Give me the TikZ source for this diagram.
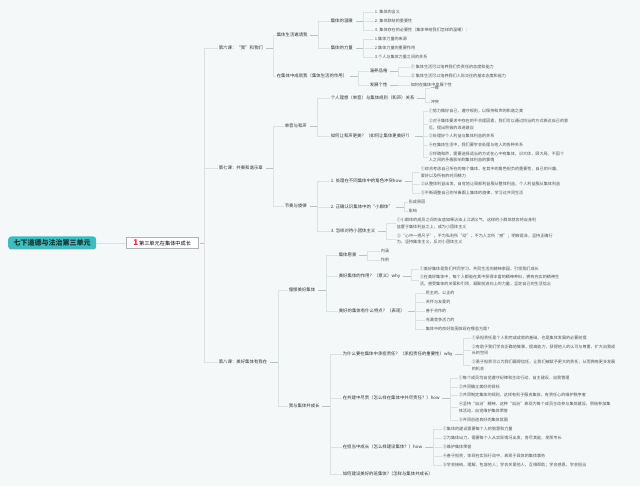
\documentclass[tikz,border=0pt]{standalone}
\usepackage{fontspec}
\setmainfont{Noto Sans CJK SC}
\definecolor{bgc}{HTML}{F5F8F9}
\definecolor{rootfill}{HTML}{3FBDBE}
\definecolor{roottext}{HTML}{123333}
\definecolor{topictxt}{HTML}{333333}
\definecolor{leaftxt}{HTML}{505050}
\definecolor{stubc}{HTML}{B9C2C5}
\definecolor{brkc}{HTML}{DCE2E4}
\definecolor{unitred}{HTML}{E3262E}
\begin{document}
\begin{tikzpicture}[x=1pt, y=-1pt,
        root/.style={rectangle, fill=rootfill, text=roottext, rounded corners=3pt, minimum width=88pt, minimum height=13pt, anchor=west, inner sep=1pt, font=\bfseries\fontsize{7}{8}\selectfont},
        unit/.style={rectangle, draw=gray!60, fill=white, minimum width=72pt, minimum height=11pt, anchor=west, inner sep=1pt, font=\fontsize{5.2}{6}\selectfont},
        topic/.style={anchor=west, inner sep=0.6pt, text=topictxt, font=\fontsize{4.4}{6}\selectfont},
        leaf/.style={anchor=west, inner sep=0.6pt, text=leaftxt, align=left, font=\fontsize{4.1}{6.6}\selectfont},
        stub/.style={draw=stubc, line width=0.5pt},
        link/.style={draw=brkc, line width=0.4pt}
    ]
        \useasboundingbox[fill=bgc] (0,0) rectangle (640,486);

        % Root
        \node[root] (root) at (8,243) {七下道德与法治第三单元};
        \node[unit] (unit) at (126,243) {{\color{unitred}\bfseries\fontsize{8}{8}\selectfont 1}\,第三单元在集体中成长};
        \draw[link] (root) -- (unit);

        % Chapters
        \node[topic] (c6) at (218,48) {第六课：“我”和我们};
        \node[topic] (c7) at (218,168) {第七课：共奏和谐乐章};
        \node[topic] (c8) at (218,362) {第八课：美好集体有我在};
        \draw[stub] ([xshift=2pt]unit.east) -- ++(4pt,0) coordinate (unitj);
        \foreach \c in {c6,c7,c8} \draw[link] (unitj) |- (\c.west);

        % Lesson 6
        \node[topic] (c6a) at (276,35) {集体生活邀请我};
        \node[topic] (c6b) at (276,76) {在集体中成就我（集体生活的作用）};
        \node[topic] (c6a1) at (330,21) {集体的温暖};
        \node[topic] (c6a2) at (330,48) {集体的力量};
        \node[leaf] (c6a1-1) at (374,12) {1. 集体的含义};
        \node[leaf] (c6a1-2) at (374,21) {2. 集体联结的重要性};
        \node[leaf] (c6a1-3) at (374,30) {3. 集体存在的必要性（集体带给我们怎样的温暖）：};
        \node[leaf] (c6a2-1) at (374,39) {1.集体力量的来源};
        \node[leaf] (c6a2-2) at (374,48) {2.集体力量的重要作用};
        \node[leaf] (c6a2-3) at (374,57) {3.个人与集体力量之间的关系};
        \node[topic] (c6b1) at (369,71) {涵养品格};
        \node[topic] (c6b2) at (369,85) {发展个性};
        \node[leaf] (c6b1-1) at (410,67) {① 集体生活可以培养我们负责任的态度和能力};
        \node[leaf] (c6b1-2) at (410,76) {② 集体生活可以培养我们人际交往的基本态度和能力};
        \node[leaf] (c6b2-1) at (410,85) {如何在集体中发展个性};

        \draw[stub] ([xshift=2pt]c6.east) -- ++(8pt,0) coordinate (c6j);
        \foreach \c in {c6a,c6b} \draw[link] (c6j) |- (\c.west);
        \draw[stub] ([xshift=2pt]c6a.east) -- ++(8pt,0) coordinate (c6aj);
        \foreach \c in {c6a1,c6a2} \draw[link] (c6aj) |- (\c.west);
        \draw[stub] ([xshift=2pt]c6b.east) -- ++(8pt,0) coordinate (c6bj);
        \foreach \c in {c6b1,c6b2} \draw[link] (c6bj) |- (\c.west);
        \draw[stub] ([xshift=2pt]c6a1.east) -- ++(8pt,0) coordinate (c6a1j);
        \foreach \c in {c6a1-1,c6a1-2,c6a1-3} \draw[link] (c6a1j) |- (\c.west);
        \draw[stub] ([xshift=2pt]c6a2.east) -- ++(8pt,0) coordinate (c6a2j);
        \foreach \c in {c6a2-1,c6a2-2,c6a2-3} \draw[link] (c6a2j) |- (\c.west);
        \draw[stub] ([xshift=2pt]c6b1.east) -- ++(8pt,0) coordinate (c6b1j);
        \foreach \c in {c6b1-1,c6b1-2} \draw[link] (c6b1j) |- (\c.west);
        \draw[stub] ([xshift=2pt]c6b2.east) -- ++(8pt,0) coordinate (c6b2j);
        \draw[link] (c6b2j) |- (c6b2-1.west);

        % Lesson 7
        \node[topic] (c7a) at (284,126) {单音与和声};
        \node[topic] (c7b) at (284,206) {节奏与旋律};
        \node[topic] (c7a1) at (330,98) {个人理想（单音）与集体规则（和声）关系};
        \node[topic] (c7a2) at (330,136) {如何让和声更美？（如何让集体更美好?）};
        \node[leaf] (c7a1-1) at (430,88) {一致};
        \node[leaf] (c7a1-2) at (430,102) {冲突};
        \node[leaf] (c7a2-1) at (428,111) {①努力做好自己，遵守规则，以保持和声的和谐之美};
        \node[leaf] (c7a2-2) at (428,124.5) {②对于集体要求中存在的不合理因素，我们可以通过恰当的方式表达自己的意\\见，提出积极的改进建议};
        \node[leaf] (c7a2-3) at (428,136) {③处理好个人利益与集体利益的关系};
        \node[leaf] (c7a2-4) at (428,145) {④在集体生活中，我们要学会处理与他人的各种关系};
        \node[leaf] (c7a2-5) at (428,157) {⑤伴随和声，需要选择适当的方式在心中有集体，识大体，顾大局，不因个\\人之间的矛盾影响到集体利益的事情};
        \node[topic] (c7b1) at (330,181) {1. 处理在不同集体中的角色冲突how};
        \node[topic] (c7b2) at (330,207) {2. 正确认识集体中的“小群体”};
        \node[topic] (c7b3) at (330,231) {3. 怎样对待小团体主义};
        \node[leaf] (c7b1-1) at (420,172.5) {①综合考虑自己所在的每个集体，在其中的角色担负的重要性、自己的兴趣、\\爱好以及所有的时间精力};
        \node[leaf] (c7b1-2) at (420,184) {②从整体利益出发，自觉地让局部利益服从整体利益，个人利益服从集体利益};
        \node[leaf] (c7b1-3) at (420,193) {③不断调整自己的节奏跟上集体的旋律，学习过共同生活};
        \node[leaf] (c7b2-1) at (408,202) {形成原因};
        \node[leaf] (c7b2-2) at (408,211) {影响};
        \node[leaf] (c7b3-1) at (396,223.5) {①小群体的成员之间的友谊如果沾染上江湖义气，这样的小群体就会将自身利\\益置于集体利益之上，成为小团体主义};
        \node[leaf] (c7b3-2) at (396,239) {②“心中一把尺子”，不为私利所“动”，不为人言所“惑”；明辨是非，坚持正确行\\为，坚持集体主义，反对小团体主义};

        \draw[stub] ([xshift=2pt]c7.east) -- ++(8pt,0) coordinate (c7j);
        \foreach \c in {c7a,c7b} \draw[link] (c7j) |- (\c.west);
        \draw[stub] ([xshift=2pt]c7a.east) -- ++(8pt,0) coordinate (c7aj);
        \foreach \c in {c7a1,c7a2} \draw[link] (c7aj) |- (\c.west);
        \draw[stub] ([xshift=2pt]c7b.east) -- ++(8pt,0) coordinate (c7bj);
        \foreach \c in {c7b1,c7b2,c7b3} \draw[link] (c7bj) |- (\c.west);
        \draw[stub] ([xshift=2pt]c7a1.east) -- ++(8pt,0) coordinate (c7a1j);
        \foreach \c in {c7a1-1,c7a1-2} \draw[link] (c7a1j) |- (\c.west);
        \draw[stub] ([xshift=2pt]c7a2.east) -- ++(8pt,0) coordinate (c7a2j);
        \foreach \c in {c7a2-1,c7a2-2,c7a2-3,c7a2-4,c7a2-5} \draw[link] (c7a2j) |- (\c.west);
        \draw[stub] ([xshift=2pt]c7b1.east) -- ++(8pt,0) coordinate (c7b1j);
        \foreach \c in {c7b1-1,c7b1-2,c7b1-3} \draw[link] (c7b1j) |- (\c.west);
        \draw[stub] ([xshift=2pt]c7b2.east) -- ++(8pt,0) coordinate (c7b2j);
        \foreach \c in {c7b2-1,c7b2-2} \draw[link] (c7b2j) |- (\c.west);
        \draw[stub] ([xshift=2pt]c7b3.east) -- ++(8pt,0) coordinate (c7b3j);
        \foreach \c in {c7b3-1,c7b3-2} \draw[link] (c7b3j) |- (\c.west);

        % Lesson 8
        \node[topic] (c8a) at (288,290) {憧憬美好集体};
        \node[topic] (c8b) at (288,406) {我与集体共成长};
        \node[topic] (c8a1) at (338,255) {集体愿景};
        \node[topic] (c8a2) at (338,276) {美好集体的作用？（意义）why};
        \node[topic] (c8a3) at (338,311) {美好的集体有什么特点？（表现）};
        \node[leaf] (c8a1-1) at (380,251) {内涵};
        \node[leaf] (c8a1-2) at (380,260) {作用};
        \node[leaf] (c8a2-1) at (419,269) {①美好集体是我们共同学习、共同生活的精神家园，引领我们成长};
        \node[leaf] (c8a2-2) at (419,280.5) {②在美好集体中，每个人都能在其中获得丰富的精神养料，拥有充实的精神生\\活，感受集体的关爱和引领，凝聚前进向上的力量，坚定自己的生活信念};
        \node[leaf] (c8a3-1) at (425,293) {民主的、公正的};
        \node[leaf] (c8a3-2) at (425,302) {关怀与友爱的};
        \node[leaf] (c8a3-3) at (425,311) {善于合作的};
        \node[leaf] (c8a3-4) at (425,320) {充满竞争活力的};
        \node[leaf] (c8a3-5) at (425,329) {集体中的良好氛围体现在哪些方面？};
        \node[topic] (c8b1) at (342,354) {为什么要在集体中承担责任？（承担责任的重要性）why};
        \node[topic] (c8b2) at (342,398) {在共建中尽责（怎么样在集体中共尽责任？）how};
        \node[topic] (c8b3) at (342,447) {在担当中成长（怎么样建设集体？）how};
        \node[topic] (c8b4) at (342,474) {如何建设美好的班集体?（怎样与集体共成长）};
        \node[leaf] (c8b1-1) at (471,338) {①承担责任是个人和完成成就的基础，也是集体发展的必要前提};
        \node[leaf] (c8b1-2) at (471,350) {②有助于我们学会正确地做事，提高能力，获得他人的认可与尊重，扩大自我成\\长的空间};
        \node[leaf] (c8b1-3) at (471,365.5) {③勇于担责可以为我们赢得信任，让我们被赋予更大的责任，从而拥有更多发展\\的机会};
        \node[leaf] (c8b2-1) at (458,378) {①每个成员均自觉遵守纪律和主动行动，自主建设，自我管理};
        \node[leaf] (c8b2-2) at (458,387) {②共同确立美好的目标};
        \node[leaf] (c8b2-3) at (458,395) {③共同制定集体的规则，这样有利于服务集体，有责任心的维护秩序者};
        \node[leaf] (c8b2-4) at (458,407.5) {④坚持“自治”精神，这种“自治”表现为每个成员主动参与集体建设，积极参加集\\体活动，自觉维护集体荣誉};
        \node[leaf] (c8b2-5) at (458,420) {⑤共同创造良好的集体氛围};
        \node[leaf] (c8b3-1) at (442,429) {①集体的建设需要每个人的智慧和力量};
        \node[leaf] (c8b3-2) at (442,438) {②为集体出力，需要每个人从实际情况出发，各尽其能，发挥专长};
        \node[leaf] (c8b3-3) at (442,447) {③维护集体荣誉};
        \node[leaf] (c8b3-4) at (442,456) {④善于担责，体现在实际行动中，表现于具体的集体事务};
        \node[leaf] (c8b3-5) at (442,465) {⑤学会接纳、理解、包容他人；学会关爱他人，互相帮助；学会感恩，学会担当};

        \draw[stub] ([xshift=2pt]c8.east) -- ++(8pt,0) coordinate (c8j);
        \foreach \c in {c8a,c8b} \draw[link] (c8j) |- (\c.west);
        \draw[stub] ([xshift=2pt]c8a.east) -- ++(8pt,0) coordinate (c8aj);
        \foreach \c in {c8a1,c8a2,c8a3} \draw[link] (c8aj) |- (\c.west);
        \draw[stub] ([xshift=2pt]c8b.east) -- ++(8pt,0) coordinate (c8bj);
        \foreach \c in {c8b1,c8b2,c8b3,c8b4} \draw[link] (c8bj) |- (\c.west);
        \draw[stub] ([xshift=2pt]c8a1.east) -- ++(8pt,0) coordinate (c8a1j);
        \foreach \c in {c8a1-1,c8a1-2} \draw[link] (c8a1j) |- (\c.west);
        \draw[stub] ([xshift=2pt]c8a2.east) -- ++(8pt,0) coordinate (c8a2j);
        \foreach \c in {c8a2-1,c8a2-2} \draw[link] (c8a2j) |- (\c.west);
        \draw[stub] ([xshift=2pt]c8a3.east) -- ++(8pt,0) coordinate (c8a3j);
        \foreach \c in {c8a3-1,c8a3-2,c8a3-3,c8a3-4,c8a3-5} \draw[link] (c8a3j) |- (\c.west);
        \draw[stub] ([xshift=2pt]c8b1.east) -- ++(8pt,0) coordinate (c8b1j);
        \foreach \c in {c8b1-1,c8b1-2,c8b1-3} \draw[link] (c8b1j) |- (\c.west);
        \draw[stub] ([xshift=2pt]c8b2.east) -- ++(8pt,0) coordinate (c8b2j);
        \foreach \c in {c8b2-1,c8b2-2,c8b2-3,c8b2-4,c8b2-5} \draw[link] (c8b2j) |- (\c.west);
        \draw[stub] ([xshift=2pt]c8b3.east) -- ++(8pt,0) coordinate (c8b3j);
        \foreach \c in {c8b3-1,c8b3-2,c8b3-3,c8b3-4,c8b3-5} \draw[link] (c8b3j) |- (\c.west);
    \end{tikzpicture}
\end{document}
